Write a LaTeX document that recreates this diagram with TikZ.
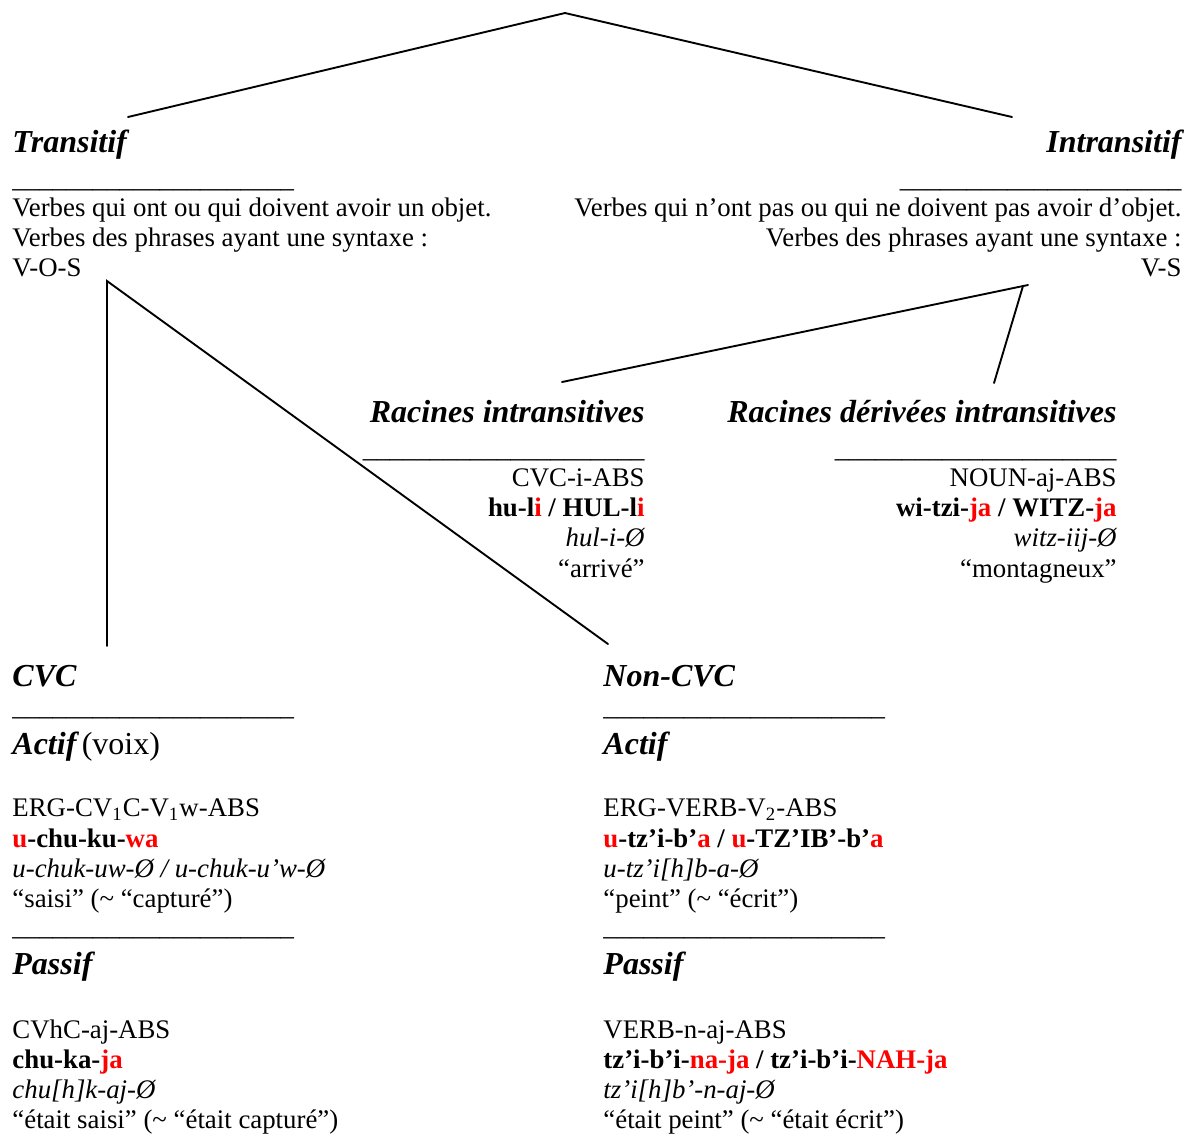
\documentclass[tikz,border=0pt]{standalone}
\usepackage{fontspec}
\setmainfont{Liberation Serif}
\definecolor{hl}{RGB}{255,0,0}
\newcommand{\rd}[1]{\textcolor{hl}{#1}}
\newcommand{\uline}{\_\_\_\_\_\_\_\_\_\_\_\_\_\_\_\_\_\_\_\_\_}
\begin{document}
\begin{tikzpicture}[x=0.45pt,y=-0.45pt,
  txt/.style={inner sep=0pt, font=\fontsize{12.07}{13.5}\selectfont},
  hd/.style={inner sep=0pt, font=\fontsize{14.4}{16}\selectfont\bfseries\itshape},
  L/.style={anchor=base west},
  R/.style={anchor=base east},
  conn/.style={line width=0.85pt, line cap=round}]
\useasboundingbox (0,0) rectangle (1192,1136);

% ---------- connector end points
\coordinate (root) at (565,13);
\coordinate (trend) at (128,117);
\coordinate (inend) at (1012,117);
\coordinate (trfork) at (107,281);
\coordinate (cvcend) at (107,646);
\coordinate (ncvcend) at (608,644);
\coordinate (infork) at (1028,285);
\coordinate (infork2) at (1023,286);
\coordinate (riend) at (562,382);
\coordinate (rdend) at (994,383);

% ---------- Transitif
\node[hd,L] (tr) at (12,152) {Transitif};
\node[txt,L] (tru) at (12,187) {\uline};
\node[txt,L] (tr1) at (12,216) {Verbes qui ont ou qui doivent avoir un objet.};
\node[txt,L] (tr2) at (12,246) {Verbes des phrases ayant une syntaxe :};
\node[txt,L] (tr3) at (12,276) {V-O-S};

% ---------- Intransitif
\node[hd,R] (in) at (1182,152) {Intransitif};
\node[txt,R] (inu) at (1182,187) {\uline};
\node[txt,R] (in1) at (1182,216) {Verbes qui n’ont pas ou qui ne doivent pas avoir d’objet.};
\node[txt,R] (in2) at (1182,246) {Verbes des phrases ayant une syntaxe :};
\node[txt,R] (in3) at (1182,276) {V-S};

% ---------- Racines intransitives
\node[hd,R] (ri) at (645,422) {Racines intransitives};
\node[txt,R] (riu) at (645,457) {\uline};
\node[txt,R] (ri1) at (645,486) {CVC-i-ABS};
\node[txt,R] (ri2) at (645,516) {\bfseries hu-l\rd{i} / HUL-l\rd{i}};
\node[txt,R] (ri3) at (645,546) {\itshape hul-i-Ø};
\node[txt,R] (ri4) at (645,577) {“arrivé”};

% ---------- Racines dérivées intransitives
\node[hd,R] (rd) at (1117,422) {Racines dérivées intransitives};
\node[txt,R] (rdu) at (1117,457) {\uline};
\node[txt,R] (rd1) at (1117,486) {NOUN-aj-ABS};
\node[txt,R] (rd2) at (1117,516) {\bfseries wi-tzi-\rd{ja} / WITZ-\rd{ja}};
\node[txt,R] (rd3) at (1117,546) {\itshape witz-iij-Ø};
\node[txt,R] (rd4) at (1117,577) {“montagneux”};

% ---------- CVC
\node[hd,L] (cvc) at (12,686) {CVC};
\node[txt,L] (cvcu) at (12,715) {\uline};
\node[hd,L] (cvcact) at (12,754) {Actif\,\normalfont\fontsize{14.4}{16}\selectfont (voix)};
\node[txt,L] (ca1) at (12,816) {ERG-CV\textsubscript{1}C-V\textsubscript{1}w-ABS};
\node[txt,L] (ca2) at (12,847) {\bfseries\rd{u}-chu-ku-\rd{wa}};
\node[txt,L] (ca3) at (12,877) {\itshape u-chuk-uw-Ø / u-chuk-u’w-Ø};
\node[txt,L] (ca4) at (12,907) {“saisi” (\textasciitilde{} “capturé”)};
\node[txt,L] (cpu) at (12,935) {\uline};
\node[hd,L] (cvcpas) at (12,974) {Passif};
\node[txt,L] (cp1) at (12,1038) {CVhC-aj-ABS};
\node[txt,L] (cp2) at (12,1068) {\bfseries chu-ka-\rd{ja}};
\node[txt,L] (cp3) at (12,1098) {\itshape chu[h]k-aj-Ø};
\node[txt,L] (cp4) at (12,1128) {“était saisi” (\textasciitilde{} “était capturé”)};

% ---------- Non-CVC
\node[hd,L] (ncvc) at (603,686) {Non-CVC};
\node[txt,L] (ncvcu) at (603,715) {\uline};
\node[hd,L] (nact) at (603,754) {Actif};
\node[txt,L] (na1) at (603,816) {ERG-VERB-V\textsubscript{2}-ABS};
\node[txt,L] (na2) at (603,847) {\bfseries\rd{u}-tz’i-b’\rd{a} / \rd{u}-TZ’IB’-b’\rd{a}};
\node[txt,L] (na3) at (603,877) {\itshape u-tz’i[h]b-a-Ø};
\node[txt,L] (na4) at (603,907) {“peint” (\textasciitilde{} “écrit”)};
\node[txt,L] (npu) at (603,935) {\uline};
\node[hd,L] (npas) at (603,974) {Passif};
\node[txt,L] (np1) at (603,1038) {VERB-n-aj-ABS};
\node[txt,L] (np2) at (603,1068) {\bfseries tz’i-b’i-\rd{na-ja} / tz’i-b’i-\rd{NAH-ja}};
\node[txt,L] (np3) at (603,1098) {\itshape tz’i[h]b’-n-aj-Ø};
\node[txt,L] (np4) at (603,1128) {“était peint” (\textasciitilde{} “était écrit”)};

% ---------- connectors
\draw[conn] (trend) -- (root) -- (inend);
\draw[conn] (cvcend) -- (trfork) -- (ncvcend);
\draw[conn] (riend) -- (infork);
\draw[conn] (infork2) -- (rdend);
\end{tikzpicture}
\end{document}
